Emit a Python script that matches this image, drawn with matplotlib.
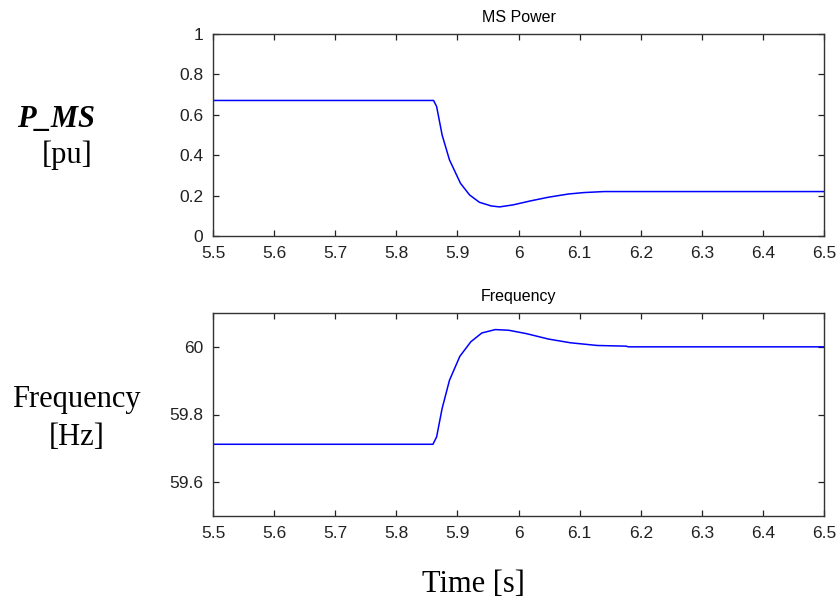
import numpy as np
import matplotlib
matplotlib.use("Agg")
import matplotlib.pyplot as plt

# values
t_power = [5.5, 5.861, 5.866, 5.875, 5.887, 5.905, 5.92, 5.936, 5.955, 5.969,
           5.991, 6.02, 6.049, 6.082, 6.107, 6.14, 6.5]
p_ms = [0.671, 0.671, 0.641, 0.50, 0.377, 0.261, 0.203, 0.167, 0.149, 0.144,
        0.154, 0.174, 0.192, 0.208, 0.215, 0.220, 0.220]

t_freq = [5.5, 5.86, 5.866, 5.875, 5.887, 5.904, 5.922, 5.94, 5.962, 5.984,
          6.013, 6.049, 6.085, 6.129, 6.176, 6.18, 6.5]
freq = [59.712, 59.712, 59.734, 59.818, 59.901, 59.972, 60.015, 60.041, 60.051,
        60.049, 60.039, 60.023, 60.012, 60.004, 60.002, 60.0, 60.0]

xticks = [5.5, 5.6, 5.7, 5.8, 5.9, 6.0, 6.1, 6.2, 6.3, 6.4, 6.5]
xticklabels = ['5.5', '5.6', '5.7', '5.8', '5.9', '6', '6.1', '6.2', '6.3', '6.4', '6.5']

W, H = 836, 605
fig = plt.figure(figsize=(W/100, H/100), dpi=100)

def ax_box(top, bot, left=213, right=824):
    return [left/W, 1-bot/H, (right-left)/W, (bot-top)/H]

tickfont = dict(family='Liberation Sans', size=12.5)

def style(ax):
    ax.tick_params(direction='in', top=True, right=True, length=4, width=0.9,
                   colors='#222222', pad=7)
    for lbl in ax.get_xticklabels() + ax.get_yticklabels():
        lbl.set_fontfamily('Liberation Sans')
        lbl.set_fontsize(12.5)
    for s in ax.spines.values():
        s.set_linewidth(1.0)
        s.set_color('#333333')

ax1 = fig.add_axes(ax_box(34, 236))
ax1.plot(t_power, p_ms, color='#0000ff', lw=1.1)
ax1.set_xlim(5.5, 6.5)
ax1.set_ylim(0, 1)
ax1.set_xticks(xticks, xticklabels)
ax1.set_yticks([0, 0.2, 0.4, 0.6, 0.8, 1], ['0', '0.2', '0.4', '0.6', '0.8', '1'])
ax1.set_title('MS Power', fontdict=dict(family='Liberation Sans', size=11.5), pad=9)
style(ax1)

ax2 = fig.add_axes(ax_box(313, 516))
ax2.plot(t_freq, freq, color='#0000ff', lw=1.1)
ax2.set_xlim(5.5, 6.5)
ax2.set_ylim(59.5, 60.1)
ax2.set_xticks(xticks, xticklabels)
ax2.set_yticks([59.6, 59.8, 60.0], ['59.6', '59.8', '60'])
ax2.set_title('Frequency', fontdict=dict(family='Liberation Sans', size=11.5), pad=9)
style(ax2)

# side labels
serif = 'Liberation Serif'
fig.text(56/W, 1-127/H, 'P_MS', family=serif, size=22, weight='bold',
         style='italic', ha='center', va='baseline')
fig.text(67/W, 1-163/H, '[pu]', family=serif, size=22, ha='center', va='baseline')
fig.text(76/W, 1-407/H, 'Frequency', family=serif, size=22, ha='center', va='baseline')
fig.text(77/W, 1-445/H, '[Hz]', family=serif, size=22, ha='center', va='baseline')
fig.text(473/W, 1-592/H, 'Time [s]', family=serif, size=22, ha='center', va='baseline')

fig.savefig('out.png', dpi=100)
